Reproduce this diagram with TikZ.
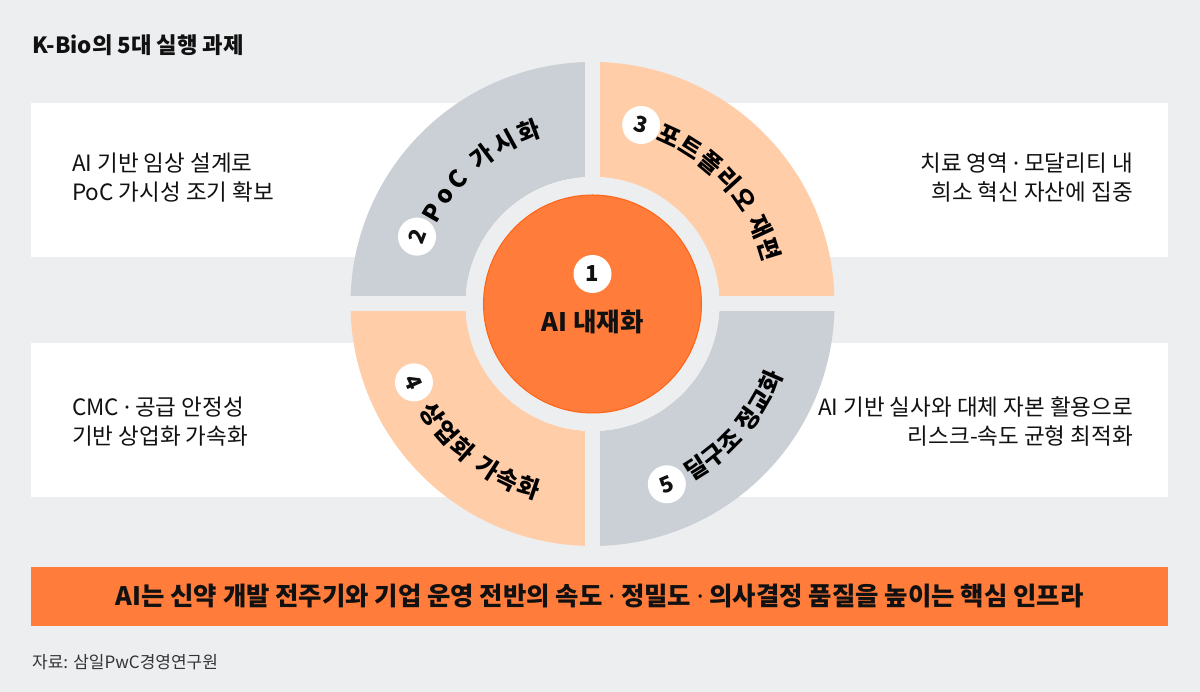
\documentclass[tikz,border=0pt]{standalone}
\usepackage{fontspec}
\setmainfont{Noto Sans CJK KR}
\newfontfamily\dotfont{Noto Sans}
\usetikzlibrary{decorations.text,calc}
\definecolor{bg}{HTML}{EDEEF0}
\definecolor{qgray}{HTML}{CBD0D6}
\definecolor{peach}{HTML}{FFCDA8}
\definecolor{orng}{HTML}{FF7C3B}
\definecolor{orngdark}{HTML}{FF6414}
\definecolor{ink}{HTML}{111111}
\newcommand\arcfont{\bfseries\fontsize{24}{24}\selectfont}
\newcommand\md{{\dotfont ·}}
\tikzset{
  sidetext/.style={font=\fontsize{22.5}{29}\selectfont, text=ink, inner sep=0pt},
  numdot/.style={circle, fill=white, minimum size=38pt, inner sep=0pt, font=\bfseries\fontsize{22}{22}\selectfont, text=ink},
  whitebox/.style={fill=white},
}
\begin{document}
\begin{tikzpicture}[x=1pt,y=1pt]
\useasboundingbox (0,0) rectangle (1200,692);
\fill[bg] (0,0) rectangle (1200,692);
\coordinate (C) at (592.5,388);

% title
\node[anchor=west, inner sep=0pt, font=\bfseries\fontsize{22.3}{22.3}\selectfont, text=ink] (title) at (32,647) {K-Bio의 5대 실행 과제};

% white boxes
\fill[whitebox] (31,435) rectangle (592,589);
\fill[whitebox] (592,435) rectangle (1168,589);
\fill[whitebox] (31,195) rectangle (592,349);
\fill[whitebox] (592,195) rectangle (1168,349);

% quadrants
\fill[qgray] ($(C)+(90:242pt)$) arc[start angle=90,end angle=180,radius=242pt] -- ($(C)+(180:127pt)$) arc[start angle=180,end angle=90,radius=127pt] -- cycle;
\fill[peach] ($(C)+(0:242pt)$) arc[start angle=0,end angle=90,radius=242pt] -- ($(C)+(90:127pt)$) arc[start angle=90,end angle=0,radius=127pt] -- cycle;
\fill[peach] ($(C)+(180:242pt)$) arc[start angle=180,end angle=270,radius=242pt] -- ($(C)+(270:127pt)$) arc[start angle=270,end angle=180,radius=127pt] -- cycle;
\fill[qgray] ($(C)+(270:242pt)$) arc[start angle=270,end angle=360,radius=242pt] -- ($(C)+(0:127pt)$) arc[start angle=0,end angle=-90,radius=127pt] -- cycle;

% gaps
\fill[bg] ($(C)+(-7.5pt,-243pt)$) rectangle ($(C)+(7.5pt,243pt)$);
\fill[bg] ($(C)+(-243pt,-7.5pt)$) rectangle ($(C)+(243pt,7.5pt)$);
\fill[bg] (C) circle[radius=127pt];

% core
\fill[orng, draw=orngdark, line width=1pt] (C) circle[radius=109pt];
\node[numdot] (n1) at ($(C)+(0,30)$) {1};
\node[inner sep=0pt, font=\bfseries\fontsize{25.5}{25.5}\selectfont, text=ink] (core) at ($(C)+(0,-17.5)$) {AI 내재화};

% ring labels
\path[decorate, decoration={text along path, text align=fit to path, text={|\arcfont|PoC 가시화}}]
  ($(C)+(153:175pt)$) arc[start angle=153, end angle=106.5, radius=175pt];
\path[decorate, decoration={text along path, text align=fit to path, text={|\arcfont|포트폴리오 재편}}]
  ($(C)+(69:175.5pt)$) arc[start angle=69, end angle=13.5, radius=175.5pt];
\path[decorate, decoration={text along path, text align=fit to path, text={|\arcfont|상업화 가속화}}]
  ($(C)+(211.5:203.5pt)$) arc[start angle=211.5, end angle=254, radius=203.5pt];
\path[decorate, decoration={text along path, text align=fit to path, text={|\arcfont|딜구조 정교화}}]
  ($(C)+(-61:203pt)$) arc[start angle=-61, end angle=-20.5, radius=203pt];

\node[numdot, rotate=69] (n2) at ($(C)+(159:188pt)$) {2};
\node[numdot, rotate=-15.2] (n3) at ($(C)+(74.8:185.5pt)$) {3};
\node[numdot, rotate=-66.3] (n4) at ($(C)+(203.7:195pt)$) {4};
\node[numdot, rotate=22.4] (n5) at ($(C)+(-67.6:195pt)$) {5};

% side texts
\node[sidetext, anchor=west, align=left] (t2) at (72,514.5) {AI 기반 임상 설계로\\PoC 가시성 조기 확보};
\node[sidetext, anchor=east, align=right] (t3) at (1133,514.5) {치료 영역 \md{} 모달리티 내\\희소 혁신 자산에 집중};
\node[sidetext, anchor=west, align=left] (t4) at (72,270) {CMC \md{} 공급 안정성\\기반 상업화 가속화};
\node[sidetext, anchor=east, align=right] (t5) at (1133,270) {AI 기반 실사와 대체 자본 활용으로\\리스크-속도 균형 최적화};

% banner
\fill[orng] (31,66) rectangle (1168,125);
\node[inner sep=0pt, font=\bfseries\fontsize{25.4}{25.4}\selectfont, text=ink] (banner) at (599.5,95.5) {AI는 신약 개발 전주기와 기업 운영 전반의 속도 \md{} 정밀도 \md{} 의사결정 품질을 높이는 핵심 인프라};

% source
\node[anchor=west, inner sep=0pt, font=\fontsize{17}{17}\selectfont, text=ink!85] (src) at (32,30) {자료: 삼일PwC경영연구원};
\end{tikzpicture}
\end{document}
